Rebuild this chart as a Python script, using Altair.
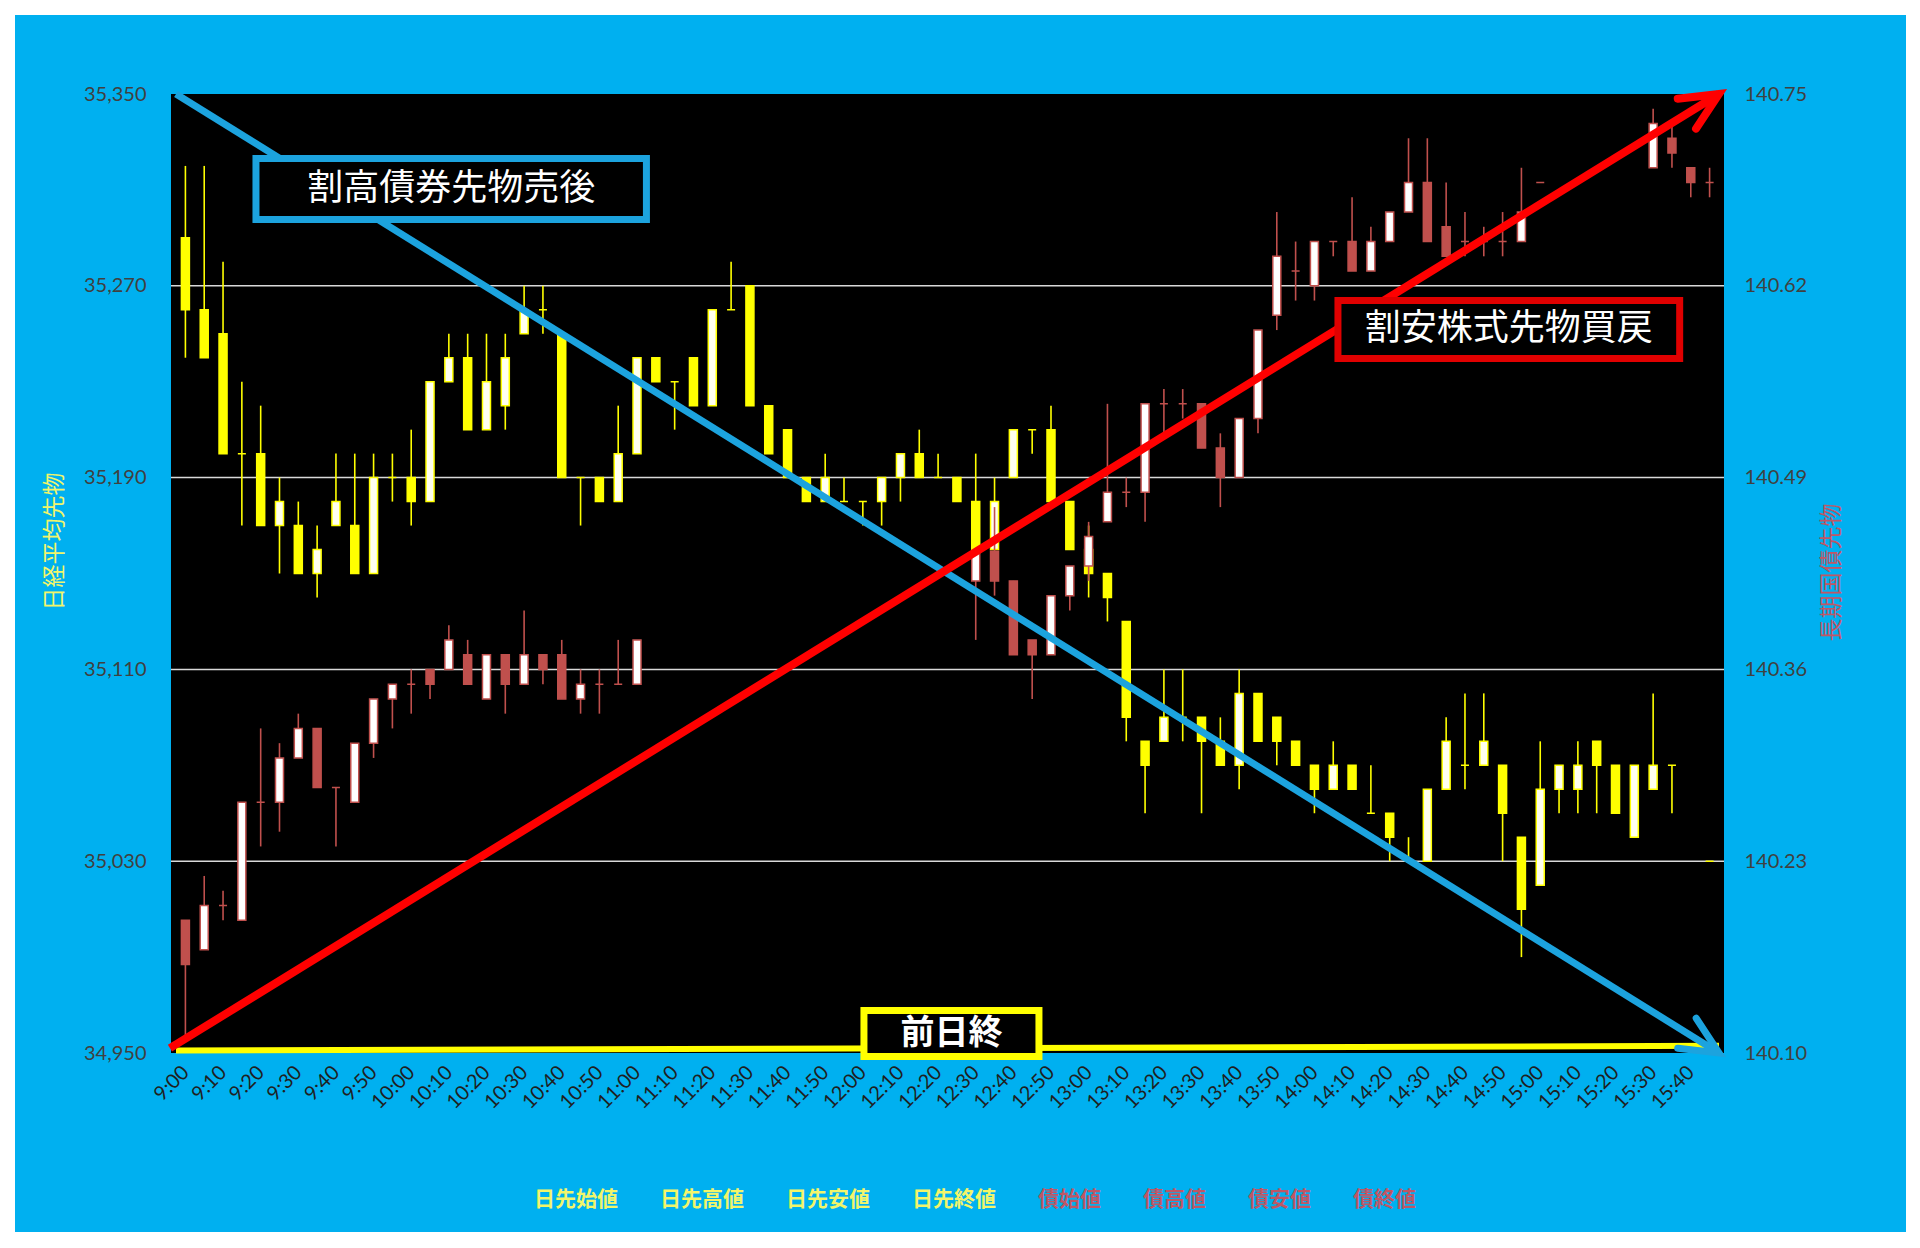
import json
import math
import pandas as pd
import altair as alt

# ---------------------------------------------------------------------------
# 5-minute bars, 9:00 .. 15:45 (every other bar gets a time label)
# ---------------------------------------------------------------------------
TIMES = [f"{(540 + 5 * k) // 60}:{(540 + 5 * k) % 60:02d}" for k in range(82)]
TIME_LABEL_IDX = list(range(0, 81, 2))

# Nikkei 225 futures (日経平均先物) OHLC
NK_OPEN = [35290, 35260, 35250, 35200, 35200, 35170, 35170, 35150, 35170, 35170,
           35150, 35190, 35190, 35180, 35230, 35240, 35210, 35220, 35250, 35260,
           35250, 35190, 35190, 35180, 35200, 35240, 35230, 35240, 35220, 35260,
           35270, 35220, 35210, 35190, 35180, 35180, 35180, 35180, 35190, 35200,
           35190, 35190, 35180, 35160, 35190, 35210, 35210, 35180, 35160, 35150,
           35130, 35080, 35080, 35090, 35090, 35080, 35070, 35100, 35090, 35080,
           35070, 35060, 35070, 35050, 35050, 35030, 35030, 35060, 35070, 35070,
           35070, 35040, 35020, 35060, 35060, 35080, 35070, 35040, 35060, 35070,
           None, 35030]
NK_HIGH = [35320, 35320, 35280, 35230, 35220, 35190, 35180, 35170, 35200, 35200,
           35200, 35200, 35210, 35230, 35250, 35250, 35250, 35250, 35270, 35270,
           35250, 35190, 35190, 35220, 35240, 35240, 35230, 35240, 35260, 35280,
           35270, 35220, 35210, 35190, 35200, 35190, 35180, 35190, 35200, 35210,
           35200, 35190, 35200, 35190, 35210, 35210, 35220, 35180, 35170, 35150,
           35130, 35080, 35110, 35110, 35090, 35090, 35110, 35100, 35090, 35080,
           35070, 35080, 35070, 35070, 35050, 35040, 35060, 35090, 35100, 35100,
           35070, 35040, 35080, 35070, 35080, 35080, 35070, 35070, 35100, 35070,
           None, 35030]
NK_LOW = [35240, 35240, 35200, 35170, 35170, 35150, 35150, 35140, 35170, 35150,
          35150, 35180, 35170, 35180, 35230, 35210, 35210, 35210, 35250, 35250,
          35190, 35170, 35180, 35180, 35200, 35230, 35210, 35220, 35220, 35260,
          35220, 35200, 35190, 35180, 35180, 35180, 35170, 35170, 35180, 35190,
          35190, 35180, 35160, 35160, 35190, 35200, 35180, 35160, 35140, 35130,
          35080, 35050, 35080, 35080, 35050, 35070, 35060, 35080, 35070, 35070,
          35050, 35060, 35060, 35050, 35030, 35030, 35030, 35060, 35060, 35070,
          35030, 34990, 35020, 35050, 35050, 35050, 35050, 35040, 35060, 35050,
          None, 35030]
NK_CLOSE = [35260, 35240, 35200, 35200, 35170, 35180, 35150, 35160, 35180, 35150,
            35190, 35190, 35180, 35230, 35240, 35210, 35230, 35240, 35260, 35260,
            35190, 35190, 35180, 35200, 35240, 35230, 35230, 35220, 35260, 35260,
            35220, 35200, 35190, 35180, 35190, 35180, 35180, 35190, 35200, 35190,
            35190, 35180, 35160, 35180, 35210, 35210, 35180, 35160, 35150, 35140,
            35090, 35070, 35090, 35090, 35080, 35070, 35100, 35080, 35080, 35070,
            35060, 35070, 35060, 35050, 35040, 35030, 35060, 35080, 35070, 35080,
            35050, 35010, 35060, 35070, 35070, 35070, 35050, 35070, 35070, 35070,
            None, 35030]

# 10-year JGB futures (長期国債先物) OHLC; no trades over the lunch break
GAP_LUNCH = [None] * 17
GAP_LATE = [None] * 5
JGB_OPEN = ([140.19, 140.17, 140.20, 140.19, 140.27, 140.27, 140.30, 140.32, 140.28, 140.27,
             140.31, 140.34, 140.35, 140.36, 140.36, 140.37, 140.34, 140.37, 140.35, 140.37,
             140.37, 140.34, 140.35, 140.35, 140.35] + GAP_LUNCH +
            [140.42, 140.44, 140.42, 140.38, 140.37, 140.41, 140.43, 140.46,
             140.48, 140.48, 140.54, 140.54, 140.54, 140.51, 140.49, 140.53, 140.60, 140.63,
             140.62, 140.65, 140.65, 140.63, 140.65, 140.67, 140.69, 140.66, 140.65, 140.65,
             140.65, 140.65, 140.69] + GAP_LATE + [140.70, 140.72, 140.70, 140.69])
JGB_HIGH = ([140.19, 140.22, 140.21, 140.27, 140.32, 140.31, 140.33, 140.32, 140.28, 140.31,
             140.34, 140.35, 140.36, 140.36, 140.39, 140.38, 140.37, 140.37, 140.40, 140.37,
             140.38, 140.36, 140.36, 140.38, 140.38] + GAP_LUNCH +
            [140.44, 140.47, 140.42, 140.38, 140.41, 140.43, 140.46, 140.54,
             140.49, 140.54, 140.55, 140.55, 140.54, 140.52, 140.53, 140.59, 140.67, 140.65,
             140.65, 140.65, 140.68, 140.66, 140.67, 140.72, 140.72, 140.69, 140.67, 140.66,
             140.67, 140.70, 140.69] + GAP_LATE + [140.74, 140.73, 140.70, 140.70])
JGB_LOW = ([140.11, 140.17, 140.19, 140.19, 140.24, 140.25, 140.30, 140.28, 140.24, 140.27,
            140.30, 140.32, 140.33, 140.34, 140.36, 140.35, 140.34, 140.33, 140.35, 140.35,
            140.34, 140.33, 140.33, 140.35, 140.35] + GAP_LUNCH +
           [140.38, 140.41, 140.37, 140.34, 140.37, 140.40, 140.42, 140.46,
            140.47, 140.46, 140.52, 140.53, 140.51, 140.47, 140.49, 140.52, 140.59, 140.61,
            140.61, 140.64, 140.63, 140.63, 140.65, 140.67, 140.65, 140.64, 140.64, 140.64,
            140.64, 140.65, 140.69] + GAP_LATE + [140.70, 140.70, 140.68, 140.68])
JGB_CLOSE = ([140.16, 140.20, 140.20, 140.27, 140.27, 140.30, 140.32, 140.28, 140.28, 140.31,
              140.34, 140.35, 140.35, 140.35, 140.38, 140.35, 140.37, 140.35, 140.37, 140.36,
              140.34, 140.35, 140.35, 140.35, 140.38] + GAP_LUNCH +
             [140.44, 140.42, 140.37, 140.37, 140.41, 140.43, 140.45, 140.48,
              140.48, 140.54, 140.54, 140.54, 140.51, 140.49, 140.53, 140.59, 140.64, 140.63,
              140.65, 140.65, 140.63, 140.65, 140.67, 140.69, 140.65, 140.64, 140.65, 140.65,
              140.65, 140.67, 140.69] + GAP_LATE + [140.73, 140.71, 140.69, 140.69])

# previous close (前日終) reference line, session start / end
PREV_CLOSE = [34951, 34953]

NK_TICKS = [34950, 35030, 35110, 35190, 35270, 35350]
JGB_TICKS = [140.10, 140.23, 140.36, 140.49, 140.62, 140.75]

NK_NAMES = ["日先始値", "日先高値", "日先安値", "日先終値"]
JGB_NAMES = ["債始値", "債高値", "債安値", "債終値"]

# ---------------------------------------------------------------------------
# layout & style
# ---------------------------------------------------------------------------
PLOT_W, PLOT_H = 1553, 959
X_LO, X_HI = -0.5, 81.5
NK_LO, NK_HI = 34950, 35350
JGB_LO, JGB_HI = 140.10, 140.75

CJK = "Noto Sans CJK JP"
NUM_FONT = "Lato"

PANEL_BLUE = "#00B0F0"
ARROW_BLUE = "#1CA3DE"
ARROW_RED = "#FF0000"
NK_YELLOW = "#FFFF00"
NK_UP = "#FFFFF0"
JGB_RED = "#C0504D"
JGB_UP = "#FFFFFF"
GRID = "#D9D9D9"
NK_TEXT = "#F2F56A"
JGB_TEXT = "#BE5766"

CHEVRON = "M -0.9 -0.42 L 0 0 L -0.9 0.42"


def candle_frame(o, h, l, c):
    rows = []
    for i, vals in enumerate(zip(o, h, l, c)):
        if vals[0] is None:
            continue
        rows.append({"idx": i, "time": TIMES[i], "open": vals[0], "high": vals[1],
                     "low": vals[2], "close": vals[3]})
    return pd.DataFrame(rows)


X_SCALE = alt.Scale(domain=[X_LO, X_HI], nice=False, zero=False)
X_AXIS = alt.Axis(values=TIME_LABEL_IDX, labelExpr=f"{json.dumps(TIMES)}[datum.value]",
                  labelAngle=315, labelAlign="right", labelBaseline="middle",
                  labelFont=NUM_FONT, labelFontSize=20, labelColor="#1F1F1F",
                  labelPadding=16, labelOverlap=False, labelFlush=False,
                  ticks=False, tickSize=0, domain=False, grid=False, title=None, zindex=1)

NK_SCALE = alt.Scale(domain=[NK_LO, NK_HI], nice=False, zero=False)
NK_AXIS = alt.Axis(orient="left", values=NK_TICKS, format=",.0f", labelFont=NUM_FONT,
                   labelFontSize=20, labelColor="#404040", labelPadding=25,
                   ticks=False, tickSize=0, domain=False, grid=False,
                   title="日経平均先物", titleFont=CJK, titleFontSize=23, titleColor=NK_TEXT,
                   titleFontWeight="normal", titleAngle=270, titleBaseline="middle",
                   titleX=-117, titleY=447, zindex=1)

JGB_SCALE = alt.Scale(domain=[JGB_LO, JGB_HI], nice=False, zero=False)
JGB_AXIS = alt.Axis(orient="right", values=JGB_TICKS, format=".2f", labelFont=NUM_FONT,
                    labelFontSize=20, labelColor="#404040", labelPadding=20,
                    ticks=False, tickSize=0, domain=False, grid=False,
                    title="長期国債先物", titleFont=CJK, titleFontSize=23, titleColor=JGB_TEXT,
                    titleFontWeight="normal", titleAngle=270, titleBaseline="middle",
                    titleX=107, titleY=478, zindex=1)


def xq(field):
    return alt.X(f"{field}:Q", scale=X_SCALE, axis=X_AXIS)


def ynk(field):
    return alt.Y(f"{field}:Q", scale=NK_SCALE, axis=NK_AXIS)


def yjgb(field):
    return alt.Y(f"{field}:Q", scale=JGB_SCALE, axis=JGB_AXIS)


def yover(field):
    return alt.Y(f"{field}:Q", scale=NK_SCALE, axis=None)


# ---------------------------------------------------------------------------
# background panel, plot area and gridlines
# ---------------------------------------------------------------------------
one = pd.DataFrame({"k": [0]})
panel = alt.Chart(one).mark_rect(color=PANEL_BLUE).encode(
    x=alt.value(-156), x2=alt.value(1735), y=alt.value(-79), y2=alt.value(1138))
plot_bg = alt.Chart(one).mark_rect(color="black").encode(
    x=alt.value(0), x2=alt.value(PLOT_W), y=alt.value(0), y2=alt.value(PLOT_H))

grid = alt.Chart(pd.DataFrame({"level": NK_TICKS[1:-1]})).mark_rule(
    color=GRID, strokeWidth=1.5).encode(y=ynk("level"), x=alt.value(0), x2=alt.value(PLOT_W))

prev_line = alt.Chart(pd.DataFrame({"idx": [X_LO, X_HI], "level": PREV_CLOSE})).mark_line(
    color=NK_YELLOW, strokeWidth=6).encode(x=xq("idx"), y=ynk("level"))

# ---------------------------------------------------------------------------
# candlesticks
# ---------------------------------------------------------------------------
nk_df = candle_frame(NK_OPEN, NK_HIGH, NK_LOW, NK_CLOSE)
nk_wick = alt.Chart(nk_df).mark_rule(color=NK_YELLOW, strokeWidth=1.6).encode(
    x=xq("idx"), y=ynk("low"), y2="high")
nk_body = alt.Chart(nk_df).mark_bar(size=8, stroke=NK_YELLOW, strokeWidth=1.5).encode(
    x=xq("idx"), y=ynk("open"), y2="close",
    fill=alt.condition("datum.close > datum.open", alt.value(NK_UP), alt.value(NK_YELLOW)))

jgb_df = candle_frame(JGB_OPEN, JGB_HIGH, JGB_LOW, JGB_CLOSE)
jgb_wick = alt.Chart(jgb_df).mark_rule(color=JGB_RED, strokeWidth=1.6).encode(
    x=xq("idx"), y=yjgb("low"), y2="high")
jgb_body = alt.Chart(jgb_df).mark_bar(size=8, stroke=JGB_RED, strokeWidth=1.5).encode(
    x=xq("idx"), y=yjgb("open"), y2="close",
    fill=alt.condition("datum.close > datum.open", alt.value(JGB_UP), alt.value(JGB_RED)))

# legend: text-only entries, coloured per instrument
LEGEND_NAMES = NK_NAMES + JGB_NAMES
label_color = ("indexof(" + json.dumps(JGB_NAMES, ensure_ascii=False) +
               f", datum.label) >= 0 ? '{JGB_TEXT}' : '{NK_TEXT}'")
legend_layer = alt.Chart(pd.DataFrame({"series": LEGEND_NAMES})).mark_point(
    opacity=0, size=1).encode(
    color=alt.Color("series:N",
                    scale=alt.Scale(domain=LEGEND_NAMES,
                                    range=[NK_YELLOW] * 4 + [JGB_RED] * 4),
                    legend=alt.Legend(orient="none", legendX=342, legendY=1095,
                                      direction="horizontal", title=None,
                                      labelFont=CJK, labelFontSize=21, labelFontWeight="bold",
                                      labelColor=alt.ExprRef(expr=label_color),
                                      labelOffset=0, symbolSize=1, symbolOpacity=0,
                                      symbolStrokeWidth=0, columnPadding=21, padding=0,
                                      zindex=1)))

# ---------------------------------------------------------------------------
# trade arrows and call-out boxes
# ---------------------------------------------------------------------------
def arrow(x0, y0, x1, y1, color, width):
    df = pd.DataFrame({"idx": [x0, x1], "level": [y0, y1]})
    dx = (x1 - x0) * PLOT_W / (X_HI - X_LO)
    dy = -(y1 - y0) * PLOT_H / (NK_HI - NK_LO)
    ang = math.degrees(math.atan2(dy, dx)) % 360
    shaft = alt.Chart(df).mark_line(color=color, strokeWidth=width, strokeCap="butt").encode(
        x=xq("idx"), y=yover("level"))
    head = alt.Chart(df.tail(1)).mark_point(
        shape=CHEVRON, size=7000, filled=False, opacity=1, stroke=color,
        strokeWidth=width, strokeCap="round", strokeJoin="miter", angle=ang).encode(
        x=xq("idx"), y=yover("level"))
    return [shaft, head]


def callout(label, x0, x1, y0, y1, border, font_size, weight):
    df = pd.DataFrame({"label": [label], "x0": [x0], "x1": [x1], "y0": [y0], "y1": [y1]})
    box = alt.Chart(df).mark_rect(fill="black", stroke=border, strokeWidth=7).encode(
        x=xq("x0"), x2="x1", y=yover("y0"), y2="y1")
    txt = alt.Chart(df).transform_calculate(
        xc="(datum.x0 + datum.x1) / 2", yc="(datum.y0 + datum.y1) / 2").mark_text(
        font=CJK, fontSize=font_size, fontWeight=weight, color="white",
        align="center", baseline="middle").encode(
        x=xq("xc"), y=yover("yc"), text="label:N")
    return [box, txt]


overlay_layers = (
    arrow(X_LO, NK_HI, X_HI, NK_LO, ARROW_BLUE, 7)
    + arrow(-0.82, 34952, X_HI, NK_HI, ARROW_RED, 8)
    + callout("割高債券先物売後", 3.75, 24.5, 35297.7, 35323.1, ARROW_BLUE, 36, "normal")
    + callout("割安株式先物買戻", 61.25, 79.41, 35239.7, 35263.9, "#E00000", 36, "normal")
    + callout("前日終", 36.06, 45.36, 34948.5, 34967.7, NK_YELLOW, 34, "bold")
)

nk_group = alt.layer(panel, plot_bg, grid, prev_line, nk_wick, nk_body, legend_layer)
jgb_group = alt.layer(jgb_wick, jgb_body)
overlay = alt.layer(*overlay_layers)

chart = (
    alt.layer(nk_group, jgb_group, overlay)
    .resolve_scale(y="independent")
    .properties(width=PLOT_W, height=PLOT_H,
                padding={"left": 171, "top": 94, "right": 196, "bottom": 195},
                autosize=alt.AutoSizeParams(type="none"))
    .configure(background="white")
    .configure_view(strokeWidth=0)
)

chart.save("out.html", embed_options={"renderer": "svg", "actions": False})
